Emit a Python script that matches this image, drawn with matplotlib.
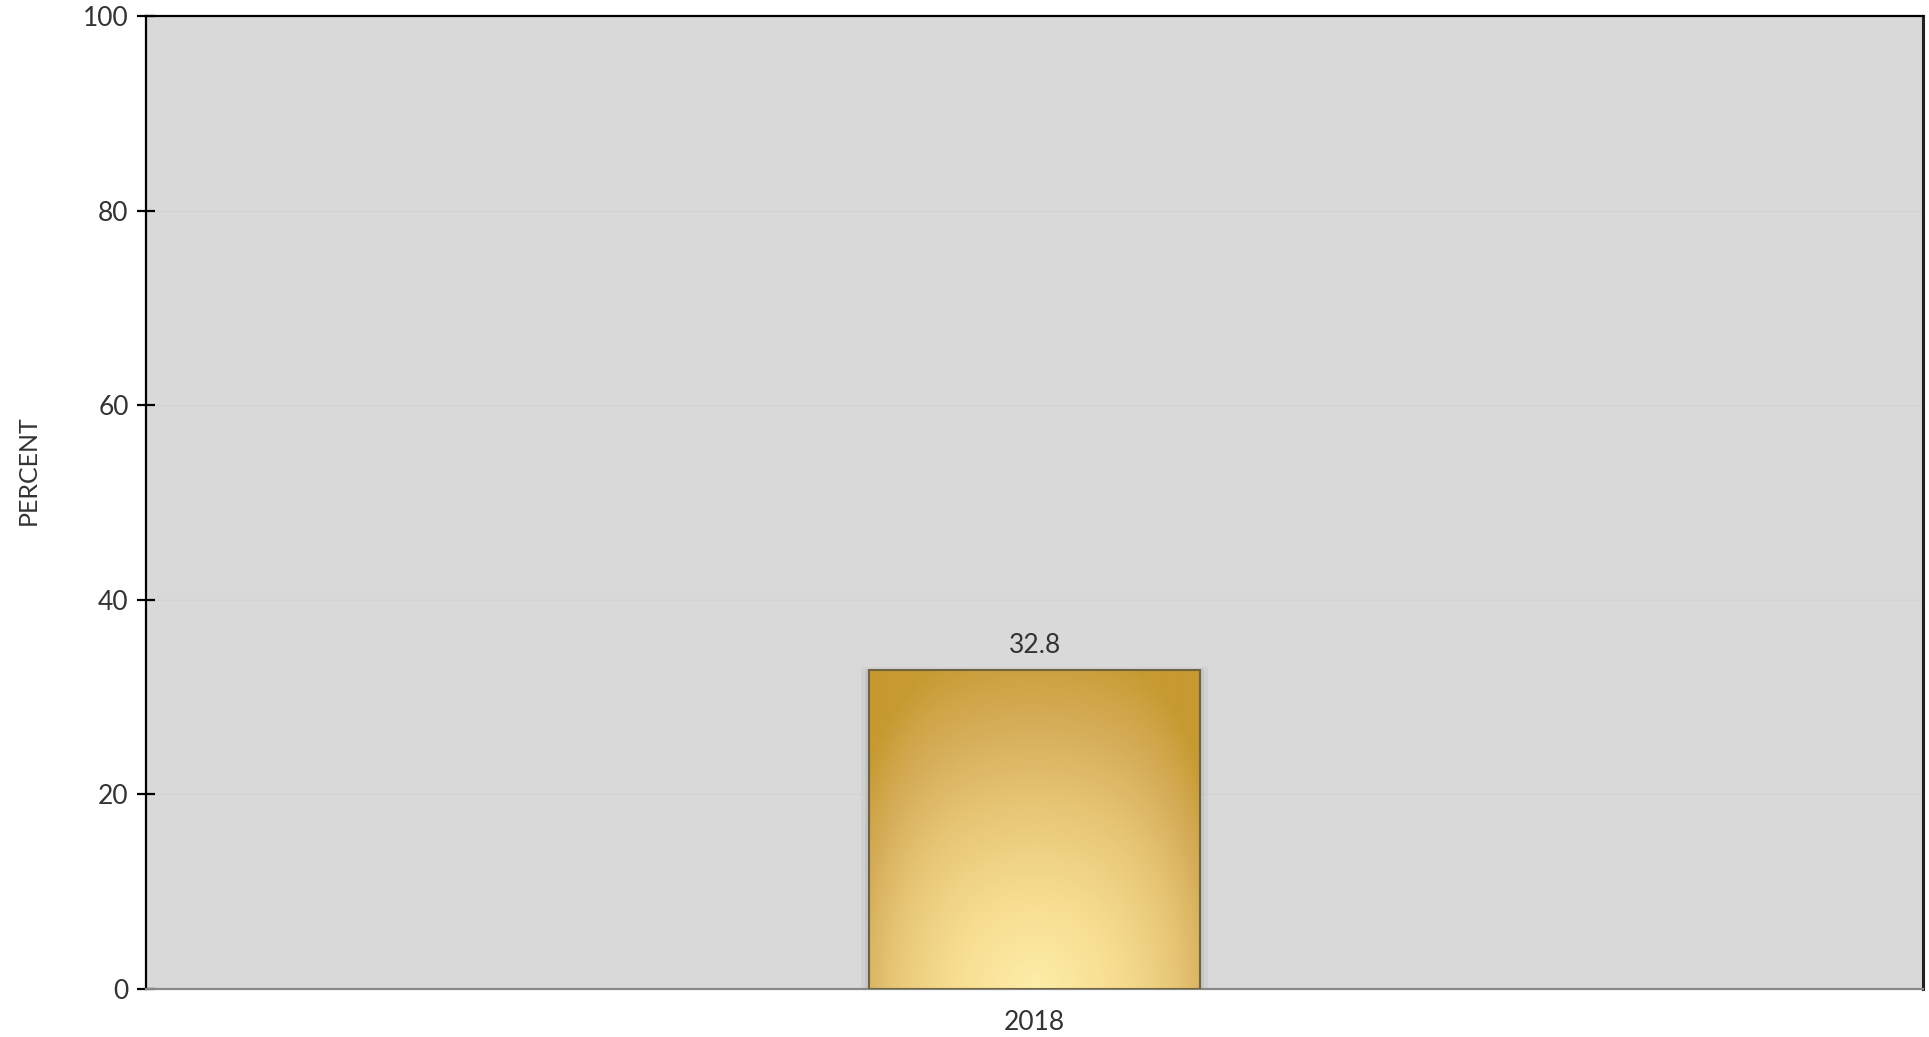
import numpy as np
import matplotlib
matplotlib.use("Agg")
import matplotlib.pyplot as plt
from matplotlib.colors import LinearSegmentedColormap

categories = ["2018"]
values = [32.8]
yticks = [0, 20, 40, 60, 80, 100]

plt.rcParams['font.family'] = ['Lato', 'DejaVu Sans']

W, H = 1929, 1037
fig = plt.figure(figsize=(W / 100, H / 100), dpi=100)
ax = fig.add_axes([146 / W, 1 - 989 / H, (1923 - 146) / W, (989 - 16) / H])
ax.set_facecolor("#D9D9D9")

x = np.arange(len(categories))
bw = 0.186
ax.set_xlim(-0.5, len(categories) - 0.5)
ax.set_ylim(0, 100)

for yv in yticks[1:-1]:
    ax.axhline(yv, color="#D3D3D3", lw=1, zorder=1)

cmap = LinearSegmentedColormap.from_list(
    "gold", ["#FDEDA8", "#F7DD90", "#E8C878", "#D6AE5A", "#C69A30"])

bars = ax.bar(x, values, width=bw, color="none", edgecolor="#6E6440",
              linewidth=1.5, zorder=4)

for xi, v, b in zip(x, values, bars):
    for k, a in enumerate([0.10, 0.06]):
        pad = 0.0022 * (k + 1)
        sh = plt.Rectangle((xi - bw / 2 - pad, 0), bw + 2 * pad, v + pad * 60,
                           facecolor="#606060", alpha=a, lw=0, zorder=2)
        ax.add_patch(sh)
    ny, nx = 200, 200
    yy, xx = np.mgrid[0:1:ny * 1j, -1:1:nx * 1j]
    d = np.sqrt((xx * 0.55) ** 2 + (yy * 1.0) ** 2)
    d = np.clip(d / 1.1, 0, 1)
    d = np.clip(d + 0.18 * np.abs(xx) ** 4, 0, 1)
    im = ax.imshow(d, cmap=cmap, origin="lower", aspect="auto",
                   extent=(xi - bw / 2, xi + bw / 2, 0, v), zorder=3,
                   interpolation="bilinear")
    im.set_clip_path(b)
    ax.text(xi, v + 1.2, f"{v}", ha="center", va="bottom", fontsize=19,
            color="#333333", zorder=5)

ax.set_xticks(x)
ax.set_xticklabels(categories, fontsize=19, color="#333333")
ax.tick_params(axis="x", length=0, pad=15)
ax.set_yticks(yticks)
ax.set_yticklabels([str(t) for t in yticks], fontsize=19, color="#333333")
ax.tick_params(axis="y", direction="inout", length=13, width=1.6,
               color="black", pad=6)

for s in ["left", "top"]:
    ax.spines[s].set_color("black")
    ax.spines[s].set_linewidth(1.6)
ax.spines["right"].set_color("#222222")
ax.spines["right"].set_linewidth(2.2)
ax.spines["bottom"].set_color("#888888")
ax.spines["bottom"].set_linewidth(1.6)

fig.text(28 / W, 1 - 470 / H, "PERCENT", rotation=90, ha="center",
         va="center", fontsize=18, color="#333333")

fig.savefig("out.png", dpi=100)
